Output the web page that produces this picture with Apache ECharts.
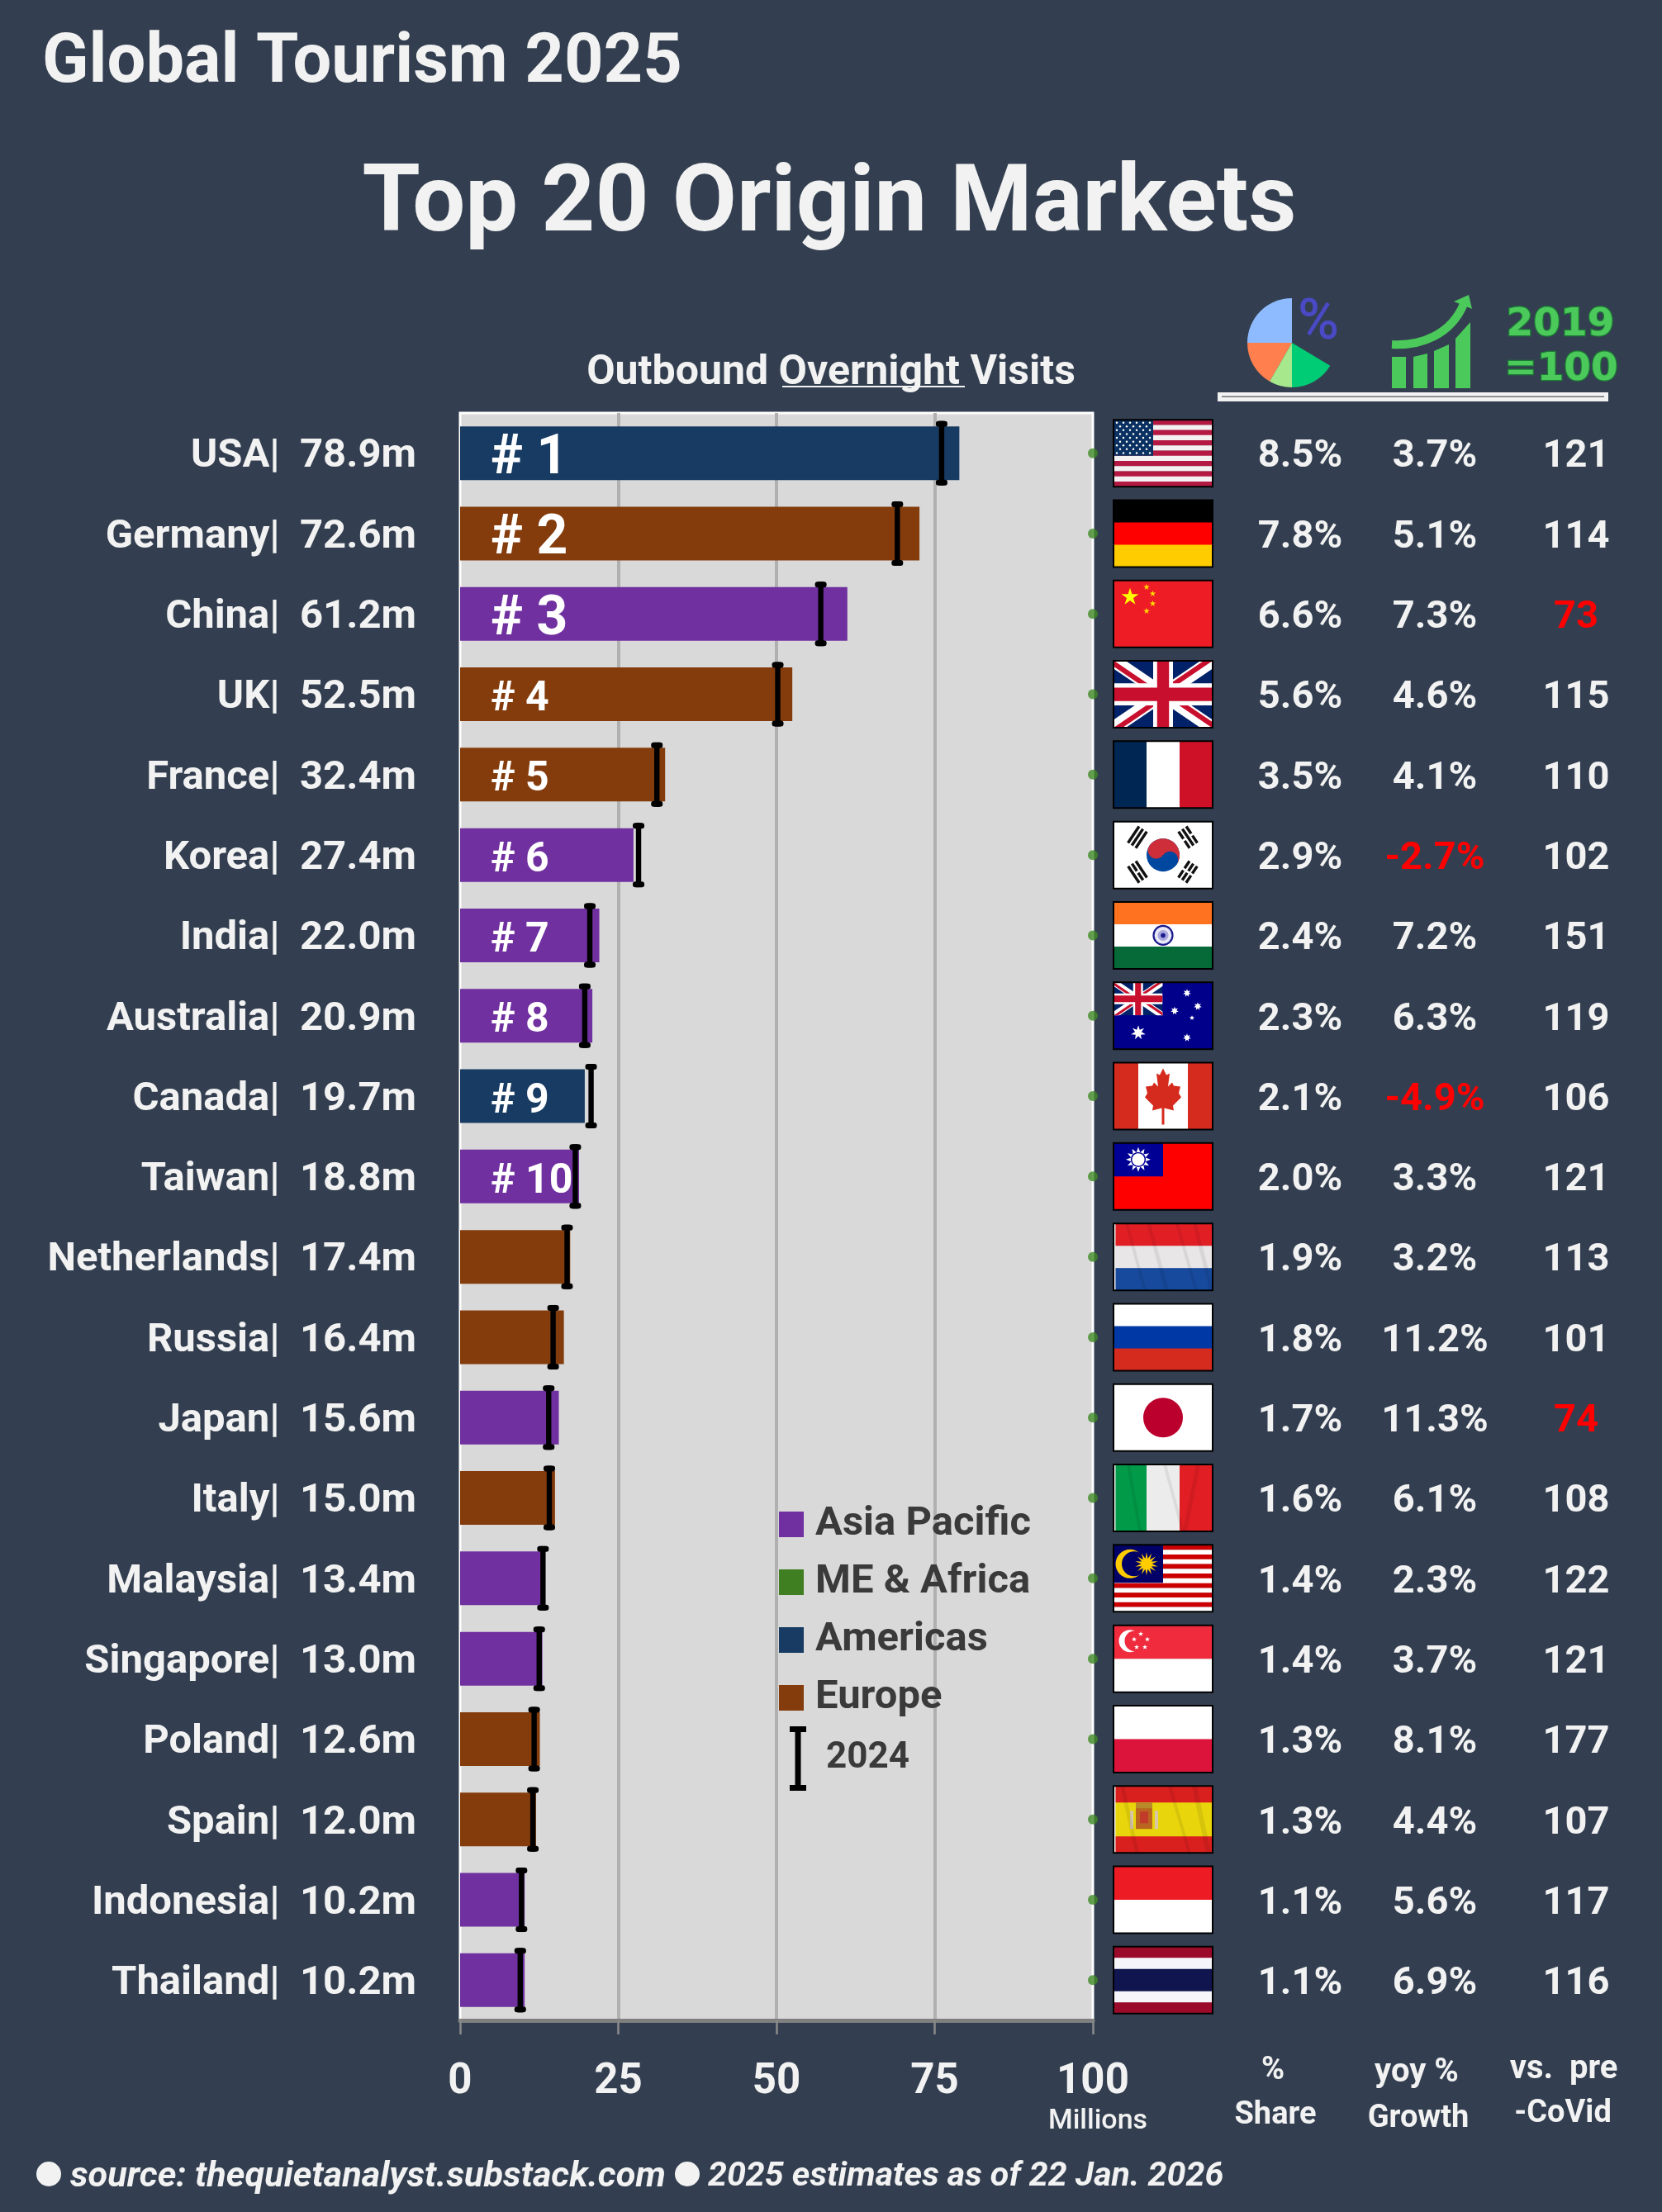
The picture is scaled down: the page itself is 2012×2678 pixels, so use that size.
<!DOCTYPE html>
<html><head><meta charset="utf-8">
<style>html,body{margin:0;padding:0;background:#333f50}#c{width:2012px;height:2678px}</style>
<script src="https://cdn.jsdelivr.net/npm/echarts@6/dist/echarts.min.js"></script>
</head><body><div id="c"></div>
<script>
// ---------- data ----------
const markets = ['USA','Germany','China','UK','France','Korea','India','Australia','Canada','Taiwan','Netherlands','Russia','Japan','Italy','Malaysia','Singapore','Poland','Spain','Indonesia','Thailand'];
const visits2025 = [78.9,72.6,61.2,52.5,32.4,27.4,22.0,20.9,19.7,18.8,17.4,16.4,15.6,15.0,13.4,13.0,12.6,12.0,10.2,10.2];
const visits2024 = [76.1,69.1,57.0,50.2,31.1,28.2,20.5,19.7,20.7,18.2,16.9,14.7,14.0,14.1,13.1,12.5,11.7,11.5,9.7,9.5];
const regions = ['Americas','Europe','Asia Pacific','Europe','Europe','Asia Pacific','Asia Pacific','Asia Pacific','Americas','Asia Pacific','Europe','Europe','Asia Pacific','Europe','Asia Pacific','Asia Pacific','Europe','Europe','Asia Pacific','Asia Pacific'];
const share = ['8.5%','7.8%','6.6%','5.6%','3.5%','2.9%','2.4%','2.3%','2.1%','2.0%','1.9%','1.8%','1.7%','1.6%','1.4%','1.4%','1.3%','1.3%','1.1%','1.1%'];
const growth = [3.7,5.1,7.3,4.6,4.1,-2.7,7.2,6.3,-4.9,3.3,3.2,11.2,11.3,6.1,2.3,3.7,8.1,4.4,5.6,6.9];
const vsPreCovid = [121,114,73,115,110,102,151,119,106,121,113,101,74,108,122,121,177,107,117,116];
const xTicks = [0,25,50,75,100];
const regionColors = {'Asia Pacific':'#7030a0','ME & Africa':'#3f7f22','Americas':'#173b62','Europe':'#843c0c'};

// ---------- helpers for the flags (local 120x81 box) ----------
const FW=120, FH=81;
const R=(x,y,w,h,fill)=>({type:'rect',shape:{x,y,width:w,height:h},style:{fill}});
const C=(cx,cy,r,fill)=>({type:'circle',shape:{cx,cy,r},style:{fill}});
const P=(points,fill)=>({type:'polygon',shape:{points},style:{fill}});
const star=(cx,cy,ro,ri,n,fill)=>{const p=[];for(let i=0;i<n*2;i++){const a=-Math.PI/2+i*Math.PI/n,r=i%2?ri:ro;p.push([cx+r*Math.cos(a),cy+r*Math.sin(a)]);}return P(p,fill);};
const hStripes=(cols)=>cols.map((c,i)=>R(0,i*FH/cols.length,FW,FH/cols.length+0.5,c));
const vStripes=(cols)=>cols.map((c,i)=>R(i*FW/cols.length,0,FW/cols.length+0.5,FH,c));
const band=(a,b,t,fill,ox=0,oy=0)=>{const dx=b[0]-a[0],dy=b[1]-a[1],L=Math.hypot(dx,dy),nx=-dy/L*t/2,ny=dx/L*t/2;
  return P([[a[0]+nx+ox,a[1]+ny+oy],[b[0]+nx+ox,b[1]+ny+oy],[b[0]-nx+ox,b[1]-ny+oy],[a[0]-nx+ox,a[1]-ny+oy]],fill);};
const streaks=(list,alpha)=>list.map(s=>P([[s[0],0],[s[0]+s[2],0],[s[1]+s[2],FH],[s[1],FH]],'rgba(0,0,0,'+alpha+')'));
function unionJack(w,h){
  const navy='#012169',wh='#fff',rd='#c8102e',cx=w/2,cy=h/2,o=h*0.025;
  return {type:'group',clipPath:{type:'rect',shape:{x:0,y:0,width:w,height:h}},children:[
    R(0,0,w,h,navy),
    band([-4,-3],[w+4,h+3],h*0.2,wh), band([-4,h+3],[w+4,-3],h*0.2,wh),
    band([-4,-3],[cx,cy],h*0.075,rd,-o,o), band([cx,cy],[w+4,-3],h*0.075,rd,-o,-o),
    band([cx,cy],[w+4,h+3],h*0.075,rd,o,-o), band([-4,h+3],[cx,cy],h*0.075,rd,o,o),
    R(cx-w*0.1,0,w*0.2,h,wh), R(0,cy-h*0.165,w,h*0.33,wh),
    R(cx-w*0.06,0,w*0.12,h,rd), R(0,cy-h*0.1,w,h*0.2,rd)
  ]};
}
function trigram(cx,cy,rot,pattern){
  const kids=[];pattern.forEach((broken,i)=>{const y=-7.4+i*5.6;
    if(broken){kids.push(R(-12,y,10.6,3.4,'#111'),R(1.4,y,10.6,3.4,'#111'));}else kids.push(R(-12,y,24,3.4,'#111'));});
  return {type:'group',x:cx,y:cy,rotation:rot,children:kids};
}
const flags={
 USA(){const k=[];for(let i=0;i<13;i++)k.push(R(0,i*FH/13,FW,FH/13+.3,i%2?'#f4f1f3':'#b31942'));
   k.push(R(0,0,48,FH*7/13,'#0a3161'));
   for(let r=0;r<9;r++){const n=r%2?5:6;for(let c=0;c<n;c++)k.push(C((r%2?8:4)+c*8,3.5+r*4.6,1.25,'#fff'));}return k;},
 Germany(){return hStripes(['#000','#ff0000','#ffcc00']);},
 China(){return [R(0,0,FW,FH,'#ee1c25'),star(20,20,11,4.2,5,'#ffff00'),star(40,8,4,1.5,5,'#ffde00'),star(47.5,16,4,1.5,5,'#ffde00'),star(47.5,28,4,1.5,5,'#ffde00'),star(40,37,4,1.5,5,'#ffde00')];},
 UK(){return [unionJack(FW,FH)];},
 France(){return vStripes(['#002654','#fff','#ce1126']);},
 Korea(){return [R(0,0,FW,FH,'#fff'),
   {type:'group',x:60,y:40.5,rotation:-0.588,children:[C(0,0,20,'#0047a0'),
     {type:'sector',shape:{cx:0,cy:0,r:20,r0:0,startAngle:Math.PI,endAngle:Math.PI*2},style:{fill:'#cd2e3a'}},
     C(-10,0,10,'#cd2e3a'),C(10,0,10,'#0047a0')]},
   trigram(29,19,0.98,[0,0,0]),trigram(90,19,-0.98,[1,0,1]),trigram(29,61,-0.98,[0,1,0]),trigram(90,61,0.98,[1,1,1])];},
 India(){return [...hStripes(['#ff7320','#fff','#066a38']),
   {type:'circle',shape:{cx:60,cy:40.5,r:11.5},style:{fill:'#e8e8f6',stroke:'#1b1b8f',lineWidth:2.2}},C(60,40.5,6.5,'#a8a8dc'),C(60,40.5,2.8,'#1b1b8f')];},
 Australia(){return [R(0,0,FW,FH,'#00008b'),{type:'group',children:[unionJack(59.5,40)]},
   star(30,61,9,4,7,'#fff'),star(89,13,5,2.4,7,'#fff'),star(102,29,5,2.4,7,'#fff'),star(74,34.5,5,2.4,7,'#fff'),star(95,43,3,1.4,5,'#fff'),star(89,67,5,2.4,7,'#fff')];},
 Canada(){const right=[[0,7],[4,15],[8,13],[6,29],[11,24],[13,28],[21,29],[19,37],[22,42],[12,52],[13,58],[1.5,55],[1.5,75]];
   const pts=right.map(p=>[60+p[0],p[1]]).concat(right.slice().reverse().map(p=>[60-p[0],p[1]]));
   return [R(0,0,FW,FH,'#fff'),R(0,0,30,FH,'#d52b1e'),R(90,0,30,FH,'#d52b1e'),P(pts,'#d52b1e')];},
 Taiwan(){return [R(0,0,FW,FH,'#fe0000'),R(0,0,60,40.5,'#000095'),star(30,20,15,9,12,'#fff'),C(30,20,9.2,'#000095'),C(30,20,7.6,'#fff')];},
 Netherlands(){return [...hStripes(['#e21e25','#e8e6e6','#174a9c']),R(0,0,2.5,FH,'#eee'),...streaks([[14,36,4],[40,62,5],[75,98,4],[96,116,5]],0.07)];},
 Russia(){return hStripes(['#fff','#0039a6','#d52b1e']);},
 Japan(){return [R(0,0,FW,FH,'#fff'),C(60,40.5,24,'#bc002d')];},
 Italy(){return [...vStripes(['#009a49','#ececec','#e01e24']),R(0,0,2.5,FH,'#eee'),...streaks([[16,30,4],[60,82,4],[100,84,5]],0.07)];},
 Malaysia(){const k=[];for(let i=0;i<14;i++)k.push(R(0,i*FH/14,FW,FH/14+.3,i%2?'#fff':'#cc0000'));
   k.push(R(0,0,60,46,'#000066'),C(20,23,17.5,'#ffcc00'),C(25,23,15,'#000066'),star(40,23,14,6.5,14,'#ffcc00'));return k;},
 Singapore(){return [...hStripes(['#ef2b3d','#fff']),C(20,19,13.5,'#fff'),C(26,19,12.5,'#ef2b3d'),
   star(33,10.5,3.2,1.3,5,'#fff'),star(41,17,3.2,1.3,5,'#fff'),star(38,26.5,3.2,1.3,5,'#fff'),star(28,26.5,3.2,1.3,5,'#fff'),star(25,17,3.2,1.3,5,'#fff')];},
 Poland(){return hStripes(['#fff','#dc143c']);},
 Spain(){return [R(0,0,FW,FH,'#d9201f'),R(0,20,FW,41,'#e8d50c'),R(0,0,2.5,FH,'#eee'),
   R(27,26,20,26,'#b9651f'),R(32,31,10,14,'#c23b2a'),R(27,20,20,7,'#b98a2a'),R(20,30,4,22,'#d8c8a8'),R(50,30,4,22,'#d8c8a8'),
   ...streaks([[8,26,5],[66,90,4],[95,112,6]],0.08)];},
 Indonesia(){return hStripes(['#ed1c24','#fff']);},
 Thailand(){const c=[['#9b0a2a',1],['#f6f6fa',1],['#10154f',2],['#f6f6fa',1],['#9b0a2a',1]];let y=0;return c.map(s=>{const e=R(0,y,FW,s[1]*FH/6+.4,s[0]);y+=s[1]*FH/6;return e;});}
};

// ---------- option ----------
const labelFont='Roboto, "Noto Sans", sans-serif', ink='#f2f2f2';
const rowLabels=markets.map((m,i)=>m+'|  '+visits2025[i].toFixed(1)+'m');
const barSeries=Object.keys(regionColors).map(r=>({
  name:r,type:'bar',stack:'v',barWidth:65,silent:true,
  itemStyle:{color:regionColors[r]},
  label:{show:false,position:[37,'50%'],verticalAlign:'middle',align:'left',color:'#fff',fontFamily:labelFont,fontWeight:'bold',formatter:p=>'# '+(p.dataIndex+1)},
  data:visits2025.map((v,i)=>regions[i]===r?{value:v,label:{show:i<10,fontSize:i<3?66:50,offset:[0,i<3?8:7]}}:null)
}));

const mono=(t,x,y,size,extra)=>({type:'text',silent:true,z:10,style:Object.assign({text:t,x,y,font:'bold '+size+'px '+labelFont,fill:ink,textAlign:'center',textVerticalAlign:'middle'},extra||{})});
const sector=(a,b,fill)=>({type:'sector',silent:true,z:10,shape:{cx:1564,cy:415,r:54,r0:0,startAngle:a*Math.PI/180,endAngle:b*Math.PI/180},style:{fill}});
const gfill='#4bc95b';
const decor=[
  // header icons
  sector(180,270,'#8ebbff'),sector(120,180,'#ff7f4e'),sector(90,120,'#a8e88c'),sector(31,90,'#00cc75'),
  mono('%',1596,393,68,{fill:'#4a49c6',font:'500 68px '+labelFont}),
  {type:'polygon',silent:true,z:10,shape:{points:[[1685,432],[1702,432],[1702,470],[1685,470]]},style:{fill:gfill}},
  {type:'polygon',silent:true,z:10,shape:{points:[[1711,432],[1728,428],[1728,470],[1711,470]]},style:{fill:gfill}},
  {type:'polygon',silent:true,z:10,shape:{points:[[1736,425],[1754,417],[1754,470],[1736,470]]},style:{fill:gfill}},
  {type:'polygon',silent:true,z:10,shape:{points:[[1762,410],[1780,390],[1780,470],[1762,470]]},style:{fill:gfill}},
  {type:'bezierCurve',silent:true,z:10,shape:{x1:1685,y1:417,cpx1:1722,cpy1:419,cpx2:1757,cpy2:404,x2:1772,y2:368},style:{stroke:gfill,lineWidth:10,fill:null}},
  {type:'polygon',silent:true,z:10,shape:{points:[[1760,365],[1778,357],[1782,374]]},style:{fill:gfill}},
  mono('2019',1889,394,47,{font:'bold 47px "DejaVu Sans"',fill:gfill,stroke:'#1e7a36',lineWidth:2.5}),
  mono('=100',1890,448,47,{font:'bold 47px "DejaVu Sans"',fill:gfill,stroke:'#1e7a36',lineWidth:2.5}),
  {type:'rect',silent:true,z:10,shape:{x:1474,y:475,width:473,height:11},style:{fill:'#f2f2f2'}},
  {type:'rect',silent:true,z:11,shape:{x:1479,y:479.5,width:463,height:1.5},style:{fill:'#6f6f6f'}},
  // underline for "Overnight"
  {type:'rect',silent:true,z:10,shape:{x:947,y:467,width:221,height:2},style:{fill:ink}},
  // column captions
  mono('%',1541,2507,38),mono('Share',1544,2561,38),
  mono('yoy %',1715,2510,40),mono('Growth',1717,2565,38),
  mono('vs.  pre',1893,2506,40),mono('-CoVid',1892,2559,38),
  mono('Millions',1329,2568,34,{font:'500 34px '+labelFont}),
  // footer
  {type:'circle',silent:true,z:10,shape:{cx:59,cy:2632,r:15},style:{fill:ink}},
  {type:'circle',silent:true,z:10,shape:{cx:832,cy:2632,r:15},style:{fill:ink}},
  mono('source: thequietanalyst.substack.com',85,2636,43.3,{textAlign:'left',font:'italic bold 43.3px '+labelFont}),
  mono('2025 estimates as of 22 Jan. 2026',857,2636,41.2,{textAlign:'left',font:'italic bold 41.2px '+labelFont})
];

const option={
  backgroundColor:'#333f50',
  animation:false,
  title:[
    {text:'Global Tourism 2025',left:46,top:32,textStyle:{color:ink,fontFamily:labelFont,fontWeight:'bold',fontSize:83}},
    {text:'Top 20 Origin Markets',left:999,textAlign:'center',top:189,textStyle:{color:ink,fontFamily:labelFont,fontWeight:'bold',fontSize:113.5}},
    {text:'Outbound Overnight Visits',left:1001,textAlign:'center',top:422,textStyle:{color:ink,fontFamily:labelFont,fontWeight:'bold',fontSize:50}}
  ],
  legend:[
    {orient:'vertical',left:938,top:1816,selectedMode:false,itemWidth:30,itemHeight:31,itemGap:21,icon:'rect',
     data:['Asia Pacific','ME & Africa','Americas','Europe'],
     textStyle:{color:'#3a3a3a',fontFamily:labelFont,fontWeight:'bold',fontSize:49,padding:[0,0,0,9]}},
    {orient:'vertical',left:951,top:2085,selectedMode:false,itemWidth:20,itemHeight:78,
     data:[{name:'2024',icon:'path://M0 0H20V7H13.5V71H20V78H0V71H6.5V7H0Z'}],
     textStyle:{color:'#3a3a3a',fontFamily:labelFont,fontWeight:'bold',fontSize:44,padding:[0,0,6,19]}}
  ],
  grid:{left:557,top:500,width:766,height:1946,show:true,backgroundColor:'#d9d9d9',borderColor:'#fff',borderWidth:3},
  xAxis:{type:'value',min:0,max:100,interval:25,position:'bottom',
    axisLine:{show:true,lineStyle:{color:'#7f7f7f',width:5}},
    axisTick:{show:true,length:17,lineStyle:{color:'#8a8a8a',width:2.5}},
    splitLine:{show:true,showMinLine:false,showMaxLine:false,lineStyle:{color:'#b0b0b0',width:4}},
    axisLabel:{margin:50,color:ink,fontFamily:labelFont,fontWeight:'bold',fontSize:51,formatter:v=>xTicks.includes(v)?String(v):''}},
  yAxis:{type:'category',inverse:true,data:rowLabels,
    axisLine:{show:false},axisTick:{show:false},splitLine:{show:false},
    axisLabel:{margin:53,color:ink,fontFamily:labelFont,fontWeight:'bold',fontSize:49,interval:0,verticalAlign:'top',lineHeight:9}},
  graphic:{elements:decor},
  series:[
    ...barSeries,
    {name:'Row marker',type:'scatter',silent:true,symbol:'circle',symbolSize:12,clip:false,z:5,itemStyle:{color:'#3f8a24'},
     data:markets.map((m,i)=>[xTicks[4],i])},
    {name:'2024',type:'custom',silent:true,z:6,clip:false,itemStyle:{color:'#000'},encode:{x:0,y:1},
     data:visits2024.map((v,i)=>[v,i]),
     renderItem(params,api){
       const c=api.coord([api.value(0),api.value(1)]),h=39;
       const bar=(x,y,w,hh,r)=>({type:'rect',shape:{x,y,width:w,height:hh,r},style:{fill:'#000'}});
       return {type:'group',children:[bar(c[0]-3.2,c[1]-h,6.4,h*2,0),bar(c[0]-7,c[1]-h,14,7,3),bar(c[0]-7,c[1]+h-7,14,7,3)]};
     }},
    {name:'Table',type:'custom',silent:true,z:7,clip:false,encode:{x:0,y:1},
     data:markets.map((m,i)=>[0,i]),
     renderItem(params,api){
       const i=api.value(1),y=api.coord([0,i])[1];
       const g=growth[i],p=vsPreCovid[i];
       const t=(s,x,col)=>({type:'text',style:{text:s,x,y:y+5,font:'bold 47px '+labelFont,fill:col,textAlign:'center',textVerticalAlign:'middle'}});
       return {type:'group',children:[
         {type:'group',x:1348,y:y-40.5,children:[
           {type:'group',clipPath:{type:'rect',shape:{x:0,y:0,width:FW,height:FH}},children:flags[markets[i]]()},
           {type:'rect',shape:{x:0,y:0,width:FW,height:FH},style:{fill:null,stroke:'#000',lineWidth:2}}]},
         t(share[i],1574,ink),
         t(g.toFixed(1)+'%',1737,g<0?'#ff0000':ink),
         t(String(p),1908,p<100?'#ff0000':ink)
       ]};
     }}
  ]
};
const chart=echarts.init(document.getElementById('c'),null,{width:2012,height:2678,renderer:'canvas'});
chart.setOption(option);
</script></body></html>
